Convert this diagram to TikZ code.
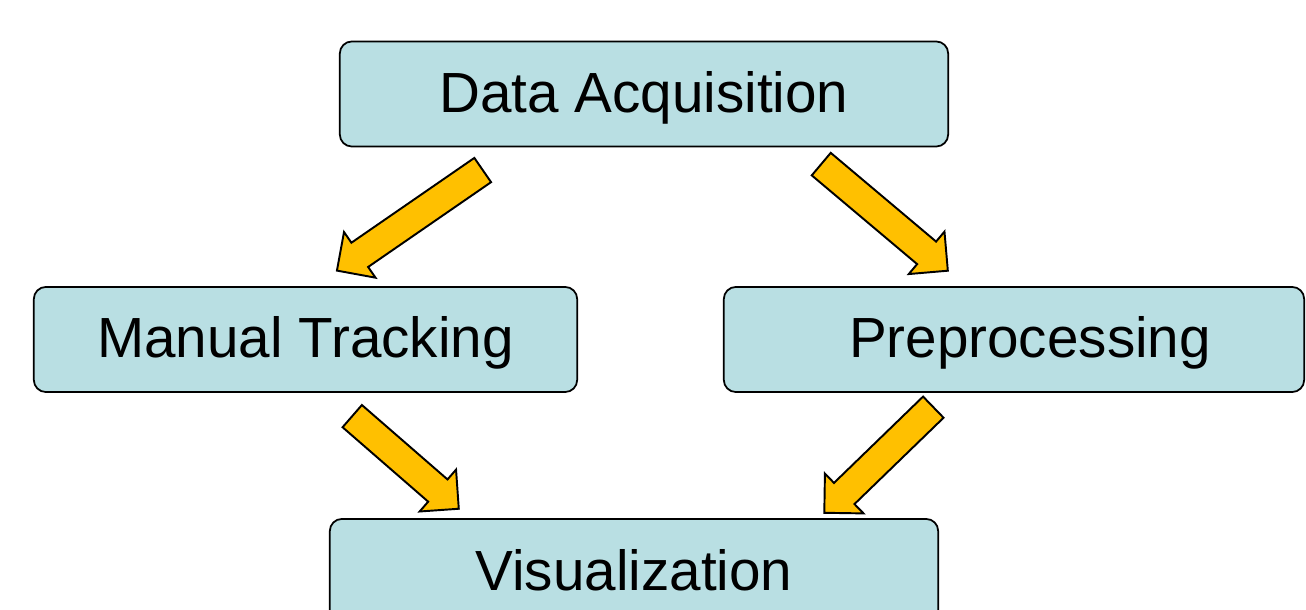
\documentclass[tikz,border=0pt]{standalone}
\usepackage{fontspec}
\setmainfont{Liberation Sans}
\usetikzlibrary{shapes.arrows}
\definecolor{boxfill}{RGB}{185,223,227}
\definecolor{arrowfill}{RGB}{255,192,0}
\begin{document}
\begin{tikzpicture}[x=0.01cm, y=-0.01cm, line join=round,
    stage/.style={draw=black, fill=boxfill, line width=0.5pt, rounded corners=0.12cm,
        minimum height=1.05cm, inner sep=0pt, text height=0.36cm, text depth=0cm,
        font=\fontsize{16.1}{19}\selectfont},
    flow/.style={single arrow, draw=black, fill=arrowfill, line width=0.55pt, line join=miter,
        inner xsep=0pt, inner ysep=0.1375cm, minimum width=0.54cm,
        single arrow head extend=0.13cm, anchor=tail}]
    \useasboundingbox (0,0) rectangle (1306,610);
    \clip (0,0) rectangle (1306,610);
    \node[stage, minimum width=6.08cm] (acq) at (644,94) {Data Acquisition};
    \node[stage, minimum width=5.43cm] (manual) at (305.5,339.5) {Manual Tracking};
    \node[stage, minimum width=5.80cm] (prep) at (1014,339.5) {\hspace*{0.32cm}Preprocessing};
    \node[stage, minimum width=6.08cm, minimum height=1.06cm] (vis) at (634,572) {Visualization};
    \node[flow, minimum height=1.77cm, rotate=214.6] (a1) at (483.5,169.5) {};
    \node[flow, minimum height=1.654cm, rotate=-40.1] (a2) at (820.5,163.5) {};
    \node[flow, minimum height=1.411cm, rotate=-41.0] (a3) at (351.5,415.5) {};
    \node[flow, minimum height=1.517cm, rotate=224.1] (a4) at (934,406.5) {};
\end{tikzpicture}
\end{document}
